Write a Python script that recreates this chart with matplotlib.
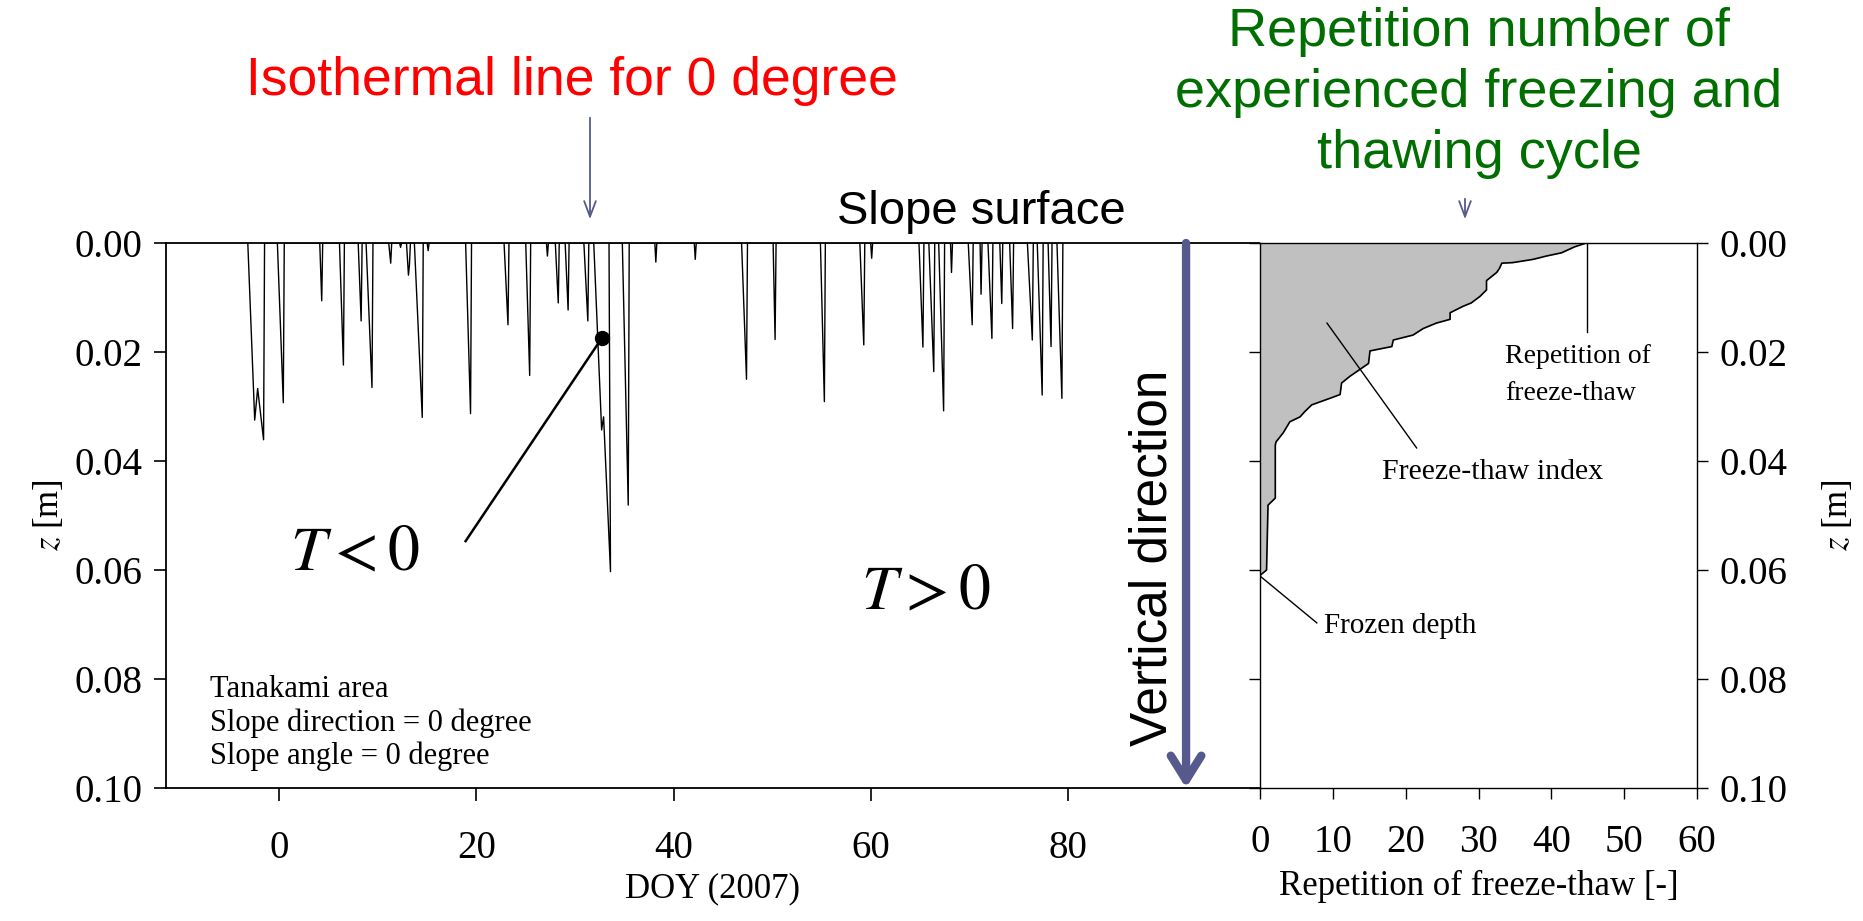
import matplotlib
matplotlib.use('Agg')
import matplotlib.pyplot as plt
import numpy as np

# isothermal line (0 degC) depth vs DOY, vertices
doy = [-3.2, -2.5, -2.2, -1.6, -1.5,
       -0.2, 0.4, 0.5,
       4.1, 4.3, 4.4,
       6.1, 6.5, 6.6,
       8.0, 8.3, 8.4,
       8.8, 9.4, 9.5,
       11.1, 11.3, 11.4,
       12.2, 12.3, 12.4,
       12.9, 13.1, 13.2, 13.3,
       13.7, 14.5, 14.6,
       15.0, 15.1, 15.2,
       18.9, 19.4, 19.5,
       22.8, 23.2, 23.3,
       25.0, 25.4, 25.5,
       27.1, 27.2, 27.3,
       28.0, 28.3, 28.4,
       29.0, 29.3, 29.4,
       30.9, 31.3, 31.4,
       31.9, 32.7, 32.9, 33.6, 33.45,
       34.8, 35.4, 35.5,
       38.1, 38.2, 38.3,
       42.1, 42.2, 42.3,
       46.9, 47.4, 47.5,
       50.1, 50.3, 50.4,
       54.9, 55.3, 55.4,
       58.9, 59.3, 59.4,
       60.0, 60.1, 60.2,
       64.9, 65.3, 65.4,
       65.9, 66.4, 66.5,
       66.9, 67.4, 67.5,
       68.1, 68.2, 68.3,
       69.9, 70.3, 70.4,
       71.1, 71.2, 71.3,
       71.9, 72.3, 72.4,
       73.1, 73.3, 73.4,
       74.1, 74.4, 74.5,
       75.9, 76.4, 76.5,
       76.9, 77.4, 77.5,
       78.0, 78.3, 78.4,
       78.9, 79.4, 79.5]
z0 = [0, 0.0325, 0.0267, 0.0361, 0,
      0, 0.0293, 0,
      0, 0.0106, 0,
      0, 0.0224, 0,
      0, 0.0143, 0,
      0, 0.0265, 0,
      0, 0.0037, 0,
      0, 0.0008, 0,
      0, 0.0059, 0.0040, 0,
      0, 0.0320, 0,
      0, 0.0014, 0,
      0, 0.0313, 0,
      0, 0.0150, 0,
      0, 0.0243, 0,
      0, 0.0024, 0,
      0, 0.0110, 0,
      0, 0.0123, 0,
      0, 0.0143, 0,
      0, 0.0343, 0.0319, 0.0603, 0,
      0, 0.0481, 0,
      0, 0.0035, 0,
      0, 0.0030, 0,
      0, 0.0250, 0,
      0, 0.0177, 0,
      0, 0.0291, 0,
      0, 0.0187, 0,
      0, 0.0028, 0,
      0, 0.0191, 0,
      0, 0.0236, 0,
      0, 0.0308, 0,
      0, 0.0054, 0,
      0, 0.0150, 0,
      0, 0.0094, 0,
      0, 0.0175, 0,
      0, 0.0111, 0,
      0, 0.0157, 0,
      0, 0.0178, 0,
      0, 0.0279, 0,
      0, 0.0190, 0,
      0, 0.0285, 0]

# freeze-thaw repetition profile
rep = [44.8, 43.2, 41.4, 39.3, 37.5, 34.7, 33.2, 32.9, 32.5, 31.1, 31.1, 30.2,
       29.0, 27.9, 27.0, 26.1, 26.1, 24.2, 22.4, 21.0, 18.3, 18.1, 15.1, 14.9,
       12.3, 11.2, 11.0, 9.8, 7.1, 6.1, 5.5, 4.1, 3.2, 2.2, 2.1, 2.1, 1.1, 0.9, 0.0]
rep_z = [0.000, 0.0007, 0.0018, 0.0024, 0.0030, 0.0036, 0.0037, 0.0046, 0.0054,
         0.0069, 0.0086, 0.0098, 0.0110, 0.0116, 0.0122, 0.0128, 0.0140, 0.0147,
         0.0157, 0.0169, 0.0178, 0.0190, 0.0198, 0.0221, 0.0245, 0.0257, 0.0278,
         0.0284, 0.0297, 0.0310, 0.0319, 0.0328, 0.0348, 0.0365, 0.0371, 0.0468,
         0.0481, 0.0600, 0.0610]

doy_ticks = [0, 20, 40, 60, 80]
z_ticks = [0.00, 0.02, 0.04, 0.06, 0.08, 0.10]
rep_ticks = [0, 10, 20, 30, 40, 50, 60]

W, H = 1863, 921
serif = 'Liberation Serif'
sans = 'Liberation Sans'
plt.rcParams['font.family'] = serif
plt.rcParams['mathtext.fontset'] = 'stix'
arrow_col = '#55598c'

fig = plt.figure(figsize=(W / 100, H / 100), dpi=100)

def fx(px):
    return px / W

def fy(py):
    return 1 - py / H

ax = fig.add_axes([fx(166), fy(788), fx(1259) - fx(166), fy(243) - fy(788)])
ax2 = fig.add_axes([fx(1260), fy(788), fx(1697) - fx(1260), fy(243) - fy(788)])

# left panel
ax.plot(doy, z0, color='black', lw=1.0)
ax.set_xlim(-11.5, 99.4)
ax.set_ylim(0.10, 0.0)
ax.set_xticks(doy_ticks)
ax.set_yticks(z_ticks)
ax.set_yticklabels(['%.2f' % v for v in z_ticks])
ax.tick_params(direction='out', length=9, width=1.2, labelsize=28)
ax.tick_params(axis='x', pad=21)
ax.tick_params(axis='y', pad=8)
ax.set_xlabel('DOY (2007)', fontsize=25, labelpad=4)
ax.set_ylabel(r'$z$ [m]', fontsize=25, labelpad=6)
for s in ax.spines.values():
    s.set_linewidth(1.3)
ax.spines['right'].set_visible(False)

ax.plot([32.7], [0.0175], 'o', color='black', ms=10)
ax.plot([32.7, 18.9], [0.0175, 0.0547], color='black', lw=1.8)

ax.text(1.1, 0.0573, r'$T<0$', fontsize=46, ha='left', va='center')
ax.text(59.0, 0.0644, r'$T>0$', fontsize=46, ha='left', va='center')
ax.text(-7.0, 0.0881, 'Tanakami area\nSlope direction = 0 degree\nSlope angle = 0 degree',
        fontsize=22, ha='left', va='center', linespacing=1.18)

# vertical direction arrow
ax.annotate('', xy=(92, 0.1), xytext=(92, 0.0), xycoords='data',
            arrowprops=dict(arrowstyle='->,head_length=0.8,head_width=0.5',
                            lw=6, color=arrow_col, mutation_scale=22,
                            shrinkA=0, shrinkB=0), annotation_clip=False)
ax.text(88.6, 0.0578, 'Vertical direction', rotation=90, fontsize=37,
        family=sans, ha='center', va='center')

# right panel
ax2.fill_betweenx(rep_z, 0, rep, color='#c0c0c0', lw=0)
ax2.plot(rep, rep_z, color='black', lw=1.2)
ax2.set_xlim(0, 60)
ax2.set_ylim(0.10, 0.0)
ax2.set_xticks(rep_ticks)
ax2.set_yticks(z_ticks)
ax2.set_yticklabels(['%.2f' % v for v in z_ticks])
ax2.tick_params(direction='out', length=8, width=1.0, labelsize=28)
ax2.tick_params(axis='y', left=True, right=True, labelleft=False, labelright=True, pad=8)
ax2.tick_params(axis='x', pad=18)
ax2.yaxis.set_label_position('right')
ax2.set_ylabel(r'$z$ [m]', fontsize=25, labelpad=24)
ax2.set_xlabel('Repetition of freeze-thaw [-]', fontsize=25, labelpad=6)
for s in ax2.spines.values():
    s.set_linewidth(1.0)

ax2.plot([44.9, 44.9], [0.0, 0.0163], color='black', lw=1.0)
ax2.text(33.7, 0.0242, 'Repetition of\nfreeze-thaw', fontsize=20, ha='left', va='center',
         linespacing=1.6)
ax2.plot([9.2, 21.5], [0.0147, 0.0376], color='black', lw=1.0)
ax2.text(16.7, 0.0420, 'Freeze-thaw index', fontsize=21.5, ha='left', va='center')
ax2.plot([0.0, 7.8], [0.0611, 0.0697], color='black', lw=1.0)
ax2.text(8.8, 0.0703, 'Frozen depth', fontsize=21, ha='left', va='center')

# titles and arrows above the axes
fig.text(fx(572), fy(81), 'Isothermal line for 0 degree', color='#ff0000',
         fontsize=38.5, family=sans, ha='center', va='center')
fig.text(fx(1479), fy(93), 'Repetition number of\nexperienced freezing and\nthawing cycle',
         color='#006e00', fontsize=39, family=sans, ha='center', va='center',
         linespacing=1.29)
fig.text(fx(981), fy(212), 'Slope surface', fontsize=34, family=sans,
         ha='center', va='center')
fig.add_artist(matplotlib.patches.FancyArrowPatch(
    (fx(590), fy(115)), (fx(590), fy(222)), transform=fig.transFigure,
    arrowstyle='->,head_length=0.8,head_width=0.3', mutation_scale=14,
    lw=1.3, color=arrow_col))
fig.add_artist(matplotlib.patches.FancyArrowPatch(
    (fx(1465), fy(196)), (fx(1465), fy(222)), transform=fig.transFigure,
    arrowstyle='->,head_length=0.8,head_width=0.3', mutation_scale=14,
    lw=1.3, color=arrow_col))

fig.savefig('out.png', dpi=100)
